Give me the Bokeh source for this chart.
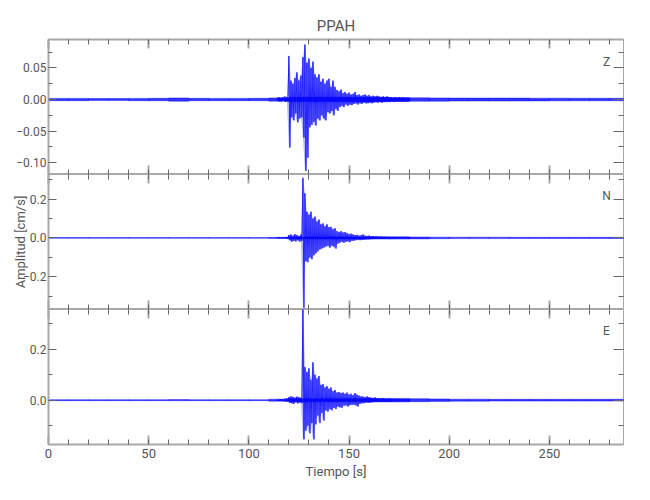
from bokeh.plotting import figure
from bokeh.layouts import column
from bokeh.models import (Range1d, LinearAxis, SingleIntervalTicker, CustomJSTickFormatter, Label)
from bokeh.embed import file_html
from bokeh.resources import INLINE

# ---------------- data ----------------
title = "PPAH"
components = ["Z", "N", "E"]
x_label = "Tiempo [s]"
y_label = "Amplitud [cm/s]"
t_max = 287

# active part: per-second upper / lower envelope, t = 114 ... 180 s
t_active = list(range(114, 181))
z_hi = [.003, .004, .003, .004, .005, .004, .069, .030, .025, .034, .043, .030, .038, .067, .087, .058,
        .065, .050, .060, .040, .035, .040, .028, .033, .025, .030, .033, .020, .030, .020, .015, .013,
        .016, .010, .012, .009, .011, .008, .009, .012, .007, .008, .006, .007, .008, .006, .007, .005,
        .006, .005, .006, .005, .004, .005, .004, .005, .004, .004, .003, .004, .003, .004, .003, .004,
        .003, .003, .003]
z_lo = [-.002, -.003, -.003, -.002, -.004, -.003, -.076, -.028, -.033, -.022, -.036, -.030, -.028, -.060,
        -.113, -.092, -.044, -.040, -.035, -.041, -.030, -.033, -.025, -.030, -.033, -.020, -.022, -.018,
        -.025, -.015, -.018, -.012, -.010, -.012, -.008, -.010, -.008, -.009, -.007, -.006, -.008, -.006,
        -.007, -.005, -.006, -.006, -.005, -.006, -.005, -.004, -.005, -.004, -.005, -.004, -.004, -.003,
        -.004, -.003, -.004, -.003, -.003, -.003, -.003, -.003, -.003, -.003, -.002]
n_hi = [.002, .003, .002, .003, .004, .005, .015, .018, .012, .020, .015, .010, .018, .310, .230, .135,
        .120, .135, .100, .110, .085, .095, .070, .075, .060, .070, .055, .057, .045, .050, .035, .030,
        .035, .028, .030, .025, .020, .022, .018, .015, .016, .012, .014, .018, .012, .010, .012, .008,
        .010, .007, .008, .006, .007, .005, .006, .004, .005, .004, .005, .004, .003, .004, .003, .004,
        .003, .003, .003]
n_lo = [-.002, -.002, -.003, -.002, -.003, -.004, -.012, -.020, -.015, -.018, -.012, -.020, -.015, -.360,
        -.120, -.125, -.100, -.110, -.090, -.080, -.070, -.060, -.055, -.050, -.045, -.040, -.050, -.040,
        -.045, -.055, -.030, -.025, -.020, -.025, -.020, -.018, -.022, -.015, -.015, -.012, -.010, -.012,
        -.010, -.010, -.008, -.008, -.007, -.006, -.006, -.005, -.005, -.005, -.004, -.005, -.004, -.004,
        -.003, -.004, -.003, -.003, -.003, -.002, -.003, -.003, -.002, -.002, -.002]
e_hi = [.002, .003, .004, .003, .006, .008, .012, .015, .013, .010, .014, .012, .010, .400, .130, .110,
        .125, .080, .149, .100, .085, .095, .060, .063, .050, .055, .045, .050, .035, .040, .030, .032,
        .028, .030, .025, .030, .022, .025, .020, .028, .022, .018, .015, .014, .012, .015, .012, .010,
        .009, .011, .008, .007, .006, .008, .006, .005, .006, .005, .004, .005, .004, .004, .003, .004,
        .003, .004, .003]
e_lo = [-.002, -.002, -.003, -.004, -.005, -.006, -.010, -.012, -.015, -.008, -.013, -.010, -.012, -.154,
        -.120, -.100, -.130, -.090, -.154, -.095, -.060, -.090, -.050, -.080, -.040, -.045, -.035, -.040,
        -.030, -.035, -.025, -.028, -.030, -.022, -.020, -.025, -.020, -.018, -.018, -.020, -.025, -.015,
        -.012, -.012, -.010, -.010, -.010, -.008, -.007, -.007, -.006, -.006, -.005, -.005, -.005, -.004,
        -.004, -.004, -.003, -.003, -.003, -.003, -.003, -.003, -.002, -.003, -.003]

# quiet background: noise half-width per 10 s bin (0-10, 10-20, ... 280-290)
t_bins = list(range(0, 290, 10))
z_noise = [.0018, .0018, .0016, .0016, .0018, .0019, .0026, .0019, .0018, .0018, .0019, .0026, .0035, .0035,
           .0035, .0035, .0035, .0030, .0028, .0026, .0024, .0023, .0024, .0023, .0022, .0021, .0020, .0020, .0020]
n_noise = [.0020, .0020, .0020, .0020, .0020, .0020, .0022, .0020, .0020, .0020, .0020, .0030, .0050, .0050,
           .0050, .0050, .0060, .0060, .0050, .0040, .0035, .0035, .0035, .0030, .0030, .0030, .0030, .0030, .0030]
e_noise = [.0020, .0020, .0020, .0020, .0020, .0020, .0022, .0020, .0020, .0020, .0020, .0040, .0060, .0060,
           .0060, .0060, .0070, .0070, .0060, .0050, .0040, .0040, .0035, .0035, .0035, .0035, .0035, .0035, .0035]

# y ranges and tick spacing
y_ranges = [(-0.1186, 0.095), (-0.369, 0.327), (-0.174, 0.356)]
y_intervals = [0.05, 0.2, 0.2]
y_decimals = [2, 1, 1]
comp_label_y = [0.060, 0.215, 0.273]
comp_label_x = 278.5

his = [z_hi, n_hi, e_hi]
los = [z_lo, n_lo, e_lo]
noises = [z_noise, n_noise, e_noise]

# ---------------- styling ----------------
FONT = "Roboto"
TXT = "#555555"
AX = "#a8a8a8"
BLUE = "#0000ff"

W = 642
FRAME_L, FRAME_R = 48, 19
heights = [174, 135, 181]
borders_top = [39, 0, 0]
borders_bot = [0, 0, 46]

x_range = Range1d(0, t_max)
figs = []


def fmt(dec):
    return CustomJSTickFormatter(code="""
        const d = %d;
        const s = Math.abs(tick).toFixed(d);
        return (tick < -1e-9 ? '\u2212' : '') + s;
    """ % dec)


def style_ticks(ax, major_color):
    ax.major_tick_in = 9
    ax.major_tick_out = 0
    ax.minor_tick_in = 5
    ax.minor_tick_out = 0
    ax.major_tick_line_color = major_color
    ax.minor_tick_line_color = "#666666"
    ax.major_label_text_font = FONT
    ax.major_label_text_color = TXT
    ax.axis_label_text_font = FONT
    ax.axis_label_text_color = TXT
    ax.axis_label_text_font_style = "normal"


def hide_labels(ax):
    ax.major_label_text_font_size = "0px"
    ax.major_label_standoff = 0
    ax.major_label_text_alpha = 0


for i, comp in enumerate(components):
    p = figure(width=W, height=heights[i], x_range=x_range,
               y_range=Range1d(*y_ranges[i]),
               output_backend="svg", toolbar_location=None,
               min_border_left=FRAME_L, min_border_right=FRAME_R,
               min_border_top=borders_top[i], min_border_bottom=borders_bot[i],
               title=title if i == 0 else None)
    p.background_fill_color = "white"
    p.border_fill_color = "white"
    p.outline_line_color = AX
    p.outline_line_width = 1
    p.xgrid.visible = False
    p.ygrid.visible = False

    # x axes (below / above)
    bx = p.xaxis[0]
    bx.ticker = SingleIntervalTicker(interval=50, num_minor_ticks=5)
    style_ticks(bx, AX)
    bx.major_tick_line_width = 2
    if i == 2:
        bx.axis_line_color = AX
        bx.axis_line_width = 2
        bx.major_label_text_font_size = "13px"
        bx.major_label_standoff = 4
        bx.axis_label = x_label
        bx.axis_label_text_font_size = "13px"
        bx.axis_label_standoff = 3
    else:
        bx.axis_line_color = None
        hide_labels(bx)

    ax_top = LinearAxis(ticker=SingleIntervalTicker(interval=50, num_minor_ticks=5))
    style_ticks(ax_top, AX)
    ax_top.major_tick_line_width = 2
    hide_labels(ax_top)
    if i == 0:
        ax_top.axis_line_color = AX
        ax_top.axis_line_width = 2
    else:
        ax_top.axis_line_color = None
    p.add_layout(ax_top, "above")

    # y axes (left / right)
    ly = p.yaxis[0]
    ly.ticker = SingleIntervalTicker(interval=y_intervals[i], num_minor_ticks=2)
    ly.formatter = fmt(y_decimals[i])
    style_ticks(ly, "#666666")
    ly.major_tick_in = 8
    ly.minor_tick_in = 4
    ly.axis_line_color = AX
    ly.axis_line_width = 2
    ly.major_label_text_font_size = "12px"
    ly.major_label_standoff = 2
    if i == 1:
        ly.axis_label = y_label
        ly.axis_label_text_font_size = "13px"
        ly.axis_label_standoff = -8

    ry = LinearAxis(ticker=SingleIntervalTicker(interval=y_intervals[i], num_minor_ticks=2))
    style_ticks(ry, "#666666")
    ry.major_tick_in = 10
    ry.minor_tick_in = 5
    ry.axis_line_color = None
    hide_labels(ry)
    p.add_layout(ry, "right")

    if i == 0:
        p.title.text_font = FONT
        p.title.text_font_size = "15px"
        p.title.text_font_style = "normal"
        p.title.text_color = TXT
        p.title.align = "center"
        p.title.offset = -14

    # quiet background band
    noise = noises[i]
    p.quad(left=t_bins, right=[t + 10 for t in t_bins],
           bottom=[-v for v in noise], top=noise,
           fill_color=BLUE, fill_alpha=0.8, line_color=BLUE, line_width=0.5, line_alpha=0.8)

    # active part: light envelope + zig-zag between upper and lower envelope
    p.varea(x=t_active, y1=los[i], y2=his[i], fill_color=BLUE, fill_alpha=0.28)
    xs, ys = [], []
    for t, hi, lo in zip(t_active, his[i], los[i]):
        xs += [t, t + 0.5]
        ys += [hi, lo]
    p.line(xs, ys, line_color=BLUE, line_width=1, line_alpha=0.8)

    p.add_layout(Label(x=comp_label_x, y=comp_label_y[i], text=comp,
                       text_font=FONT, text_font_size="12px", text_color=TXT,
                       text_align="center", text_baseline="middle"))
    figs.append(p)

layout = column(*figs, spacing=0)
open("out.html", "w").write(file_html(layout, INLINE))
